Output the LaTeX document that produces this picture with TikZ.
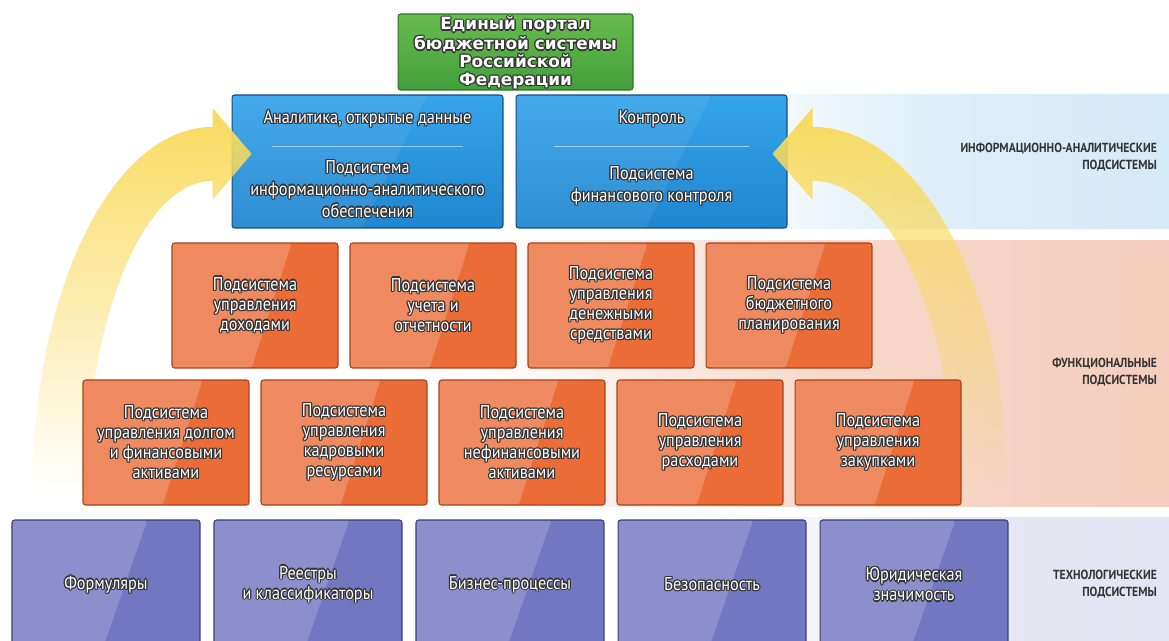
\documentclass[tikz,border=0pt]{standalone}
\usepackage{fontspec}
\usepackage{contour}
\setmainfont{PT Sans}[FakeStretch=0.88]
\newfontfamily\portalfont{DejaVu Sans}
\usetikzlibrary{calc, fadings}
\contourlength{0.7pt}
\contournumber{8}

\definecolor{portalgreen}{HTML}{449F3C}
\definecolor{portaltop}{HTML}{66BC4C}
\definecolor{portaledge}{HTML}{2D6E2A}
\definecolor{infoblue}{HTML}{1F86D0}
\definecolor{infotop}{HTML}{36A4EA}
\definecolor{infoedge}{HTML}{17497E}
\definecolor{funcorange}{HTML}{EB6C37}
\definecolor{funcedge}{HTML}{A9401B}
\definecolor{techpurple}{HTML}{7377C1}
\definecolor{techedge}{HTML}{3B3E78}
\definecolor{bandblue}{HTML}{D5EAF7}
\definecolor{bandpink}{HTML}{F5CDBC}
\definecolor{bandlilac}{HTML}{E4E4F2}
\definecolor{arrowyellow}{HTML}{F9DA5E}
\definecolor{sidetext}{HTML}{333333}

\tikzfading[name=arrowfade, top color=transparent!0, middle color=transparent!50, bottom color=transparent!100]

% white letters with a dark rim
\newcommand{\sh}[1]{\contour{black!80}{#1}}

\tikzset{
  gloss/.style = {path picture={
    \fill[white, opacity=#1] (path picture bounding box.north west)
      -- ($(path picture bounding box.north west)!0.72!(path picture bounding box.north east)$)
      -- ($(path picture bounding box.south west)!0.48!(path picture bounding box.south east)$)
      -- (path picture bounding box.south west) -- cycle;}},
  box/.style = {draw, rounded corners=1.5pt, line width=0.6pt, align=center,
    text=white, inner sep=1pt},
  funcbox/.style = {box, gloss=0.2, fill=funcorange, draw=funcedge,
    minimum width=3.32cm, minimum height=2.5cm,
    font=\fontsize{10.5}{11.4}\selectfont},
  techbox/.style = {box, gloss=0.18, fill=techpurple, draw=techedge,
    minimum width=3.76cm, minimum height=2.6cm,
    font=\fontsize{10.5}{11.4}\selectfont},
  infobox/.style = {box, gloss=0.07, top color=infotop, bottom color=infoblue,
    draw=infoedge, minimum width=5.42cm, minimum height=2.66cm},
  infotext/.style = {text=white, align=center, font=\fontsize{10.5}{12.5}\selectfont},
  portalbox/.style = {box, top color=portaltop, bottom color=portalgreen,
    draw=portaledge, minimum width=4.7cm, minimum height=1.52cm},
  portaltext/.style = {text=white, align=center,
    font=\portalfont\bfseries\fontsize{9.6}{10.1}\selectfont},
  sidelabel/.style = {anchor=east, align=right, text=sidetext,
    font=\bfseries\fontsize{7.5}{9.6}\selectfont},
  bigarrow/.style = {fill=arrowyellow, path fading=arrowfade}
}

\begin{document}
\begin{tikzpicture}[x=0.02cm, y=-0.02cm]
\useasboundingbox (0,0) rectangle (1169,640);
\clip (0,0) rectangle (1169,640);

% layer bands
\fill[left color=white, right color=bandblue, middle color=bandblue!80] (700,94) rectangle (1169,228);
\fill[left color=white, right color=bandpink, middle color=bandpink!75] (460,240) rectangle (1169,506);
\fill[left color=white, right color=bandlilac, middle color=bandlilac!85] (700,517) rectangle (1169,640);

% information-analytic subsystems
\node[infobox] (analytics) at (367.5,161.5) {};
\node[infobox] (control) at (651.5,161.5) {};
\node[infotext] (analyticsTop) at ($(analytics.north)+(0,25)$) {\sh{Аналитика, открытые данные}};
\node[infotext] (analyticsSub) at ($(analytics.north)+(0,95)$) {\sh{Подсистема}\\\sh{информационно-аналитического}\\\sh{обеспечения}};
\node[infotext] (controlTop) at ($(control.north)+(0,25)$) {\sh{Контроль}};
\node[infotext] (controlSub) at ($(control.north)+(0,92)$) {\sh{Подсистема}\\\sh{финансового контроля}};
\draw[white, opacity=0.5, line width=0.8pt] ($(analytics.north west)!0.15!(analytics.north east)+(0,52)$) -- ($(analytics.north west)!0.85!(analytics.north east)+(0,52)$);
\draw[white, opacity=0.5, line width=0.8pt] ($(control.north west)!0.14!(control.north east)+(0,52)$) -- ($(control.north west)!0.86!(control.north east)+(0,52)$);

% yellow arrows up to the analytic layer
\fill[bigarrow] ([shift={(20,-7.5)}]analytics.west) -- ++(-39,-46) -- ++(0,19)
  arc[start angle=270, end angle=180, x radius=180, y radius=363] -- ++(54,0)
  arc[start angle=180, end angle=270, x radius=126, y radius=309] -- ++(0,19) -- cycle;
\fill[bigarrow] ([shift={(-15,-7.5)}]control.east) -- ++(40,-46) -- ++(0,19)
  arc[start angle=270, end angle=360, x radius=195, y radius=363] -- ++(-54,0)
  arc[start angle=0, end angle=-90, x radius=141, y radius=309] -- ++(0,19) -- cycle;

% functional subsystems
\node[funcbox] (income) at (255,305.5) {\sh{Подсистема}\\\sh{управления}\\\sh{доходами}};
\node[funcbox] (accounting) at (433,305.5) {\sh{Подсистема}\\\sh{учета и}\\\sh{отчетности}};
\node[funcbox] (cash) at (611,305.5) {\sh{Подсистема}\\\sh{управления}\\\sh{денежными}\\\sh{средствами}};
\node[funcbox] (planning) at (789,305.5) {\sh{Подсистема}\\\sh{бюджетного}\\\sh{планирования}};

\node[funcbox] (debt) at (166,442.5) {\sh{Подсистема}\\\sh{управления долгом}\\\sh{и финансовыми}\\\sh{активами}};
\node[funcbox] (staff) at (344,442.5) {\sh{Подсистема}\\\sh{управления}\\\sh{кадровыми}\\\sh{ресурсами}};
\node[funcbox] (assets) at (522,442.5) {\sh{Подсистема}\\\sh{управления}\\\sh{нефинансовыми}\\\sh{активами}};
\node[funcbox] (expenses) at (700,442.5) {\sh{Подсистема}\\\sh{управления}\\\sh{расходами}};
\node[funcbox] (purchases) at (878,442.5) {\sh{Подсистема}\\\sh{управления}\\\sh{закупками}};

% technological subsystems
\node[techbox] (forms) at (106,585) {\sh{Формуляры}};
\node[techbox] (registers) at (308,585) {\sh{Реестры}\\\sh{и классификаторы}};
\node[techbox] (processes) at (510,585) {\sh{Бизнес-процессы}};
\node[techbox] (security) at (712,585) {\sh{Безопасность}};
\node[techbox] (legal) at (914,585) {\sh{Юридическая}\\\sh{значимость}};

% portal on top
\node[portalbox] (portal) at (515.5,52) {};
\node[portaltext] (portalText) at ($(portal.center)+(0,1.5)$) {\sh{Единый портал}\\\sh{бюджетной системы}\\\sh{Российской}\\\sh{Федерации}};

% layer captions
\node[sidelabel] (infolabel) at (1163,157) {ИНФОРМАЦИОННО-АНАЛИТИЧЕСКИЕ\\ПОДСИСТЕМЫ};
\node[sidelabel] (funclabel) at (1163,372) {ФУНКЦИОНАЛЬНЫЕ\\ПОДСИСТЕМЫ};
\node[sidelabel] (techlabel) at (1163,584) {ТЕХНОЛОГИЧЕСКИЕ\\ПОДСИСТЕМЫ};
\end{tikzpicture}
\end{document}
